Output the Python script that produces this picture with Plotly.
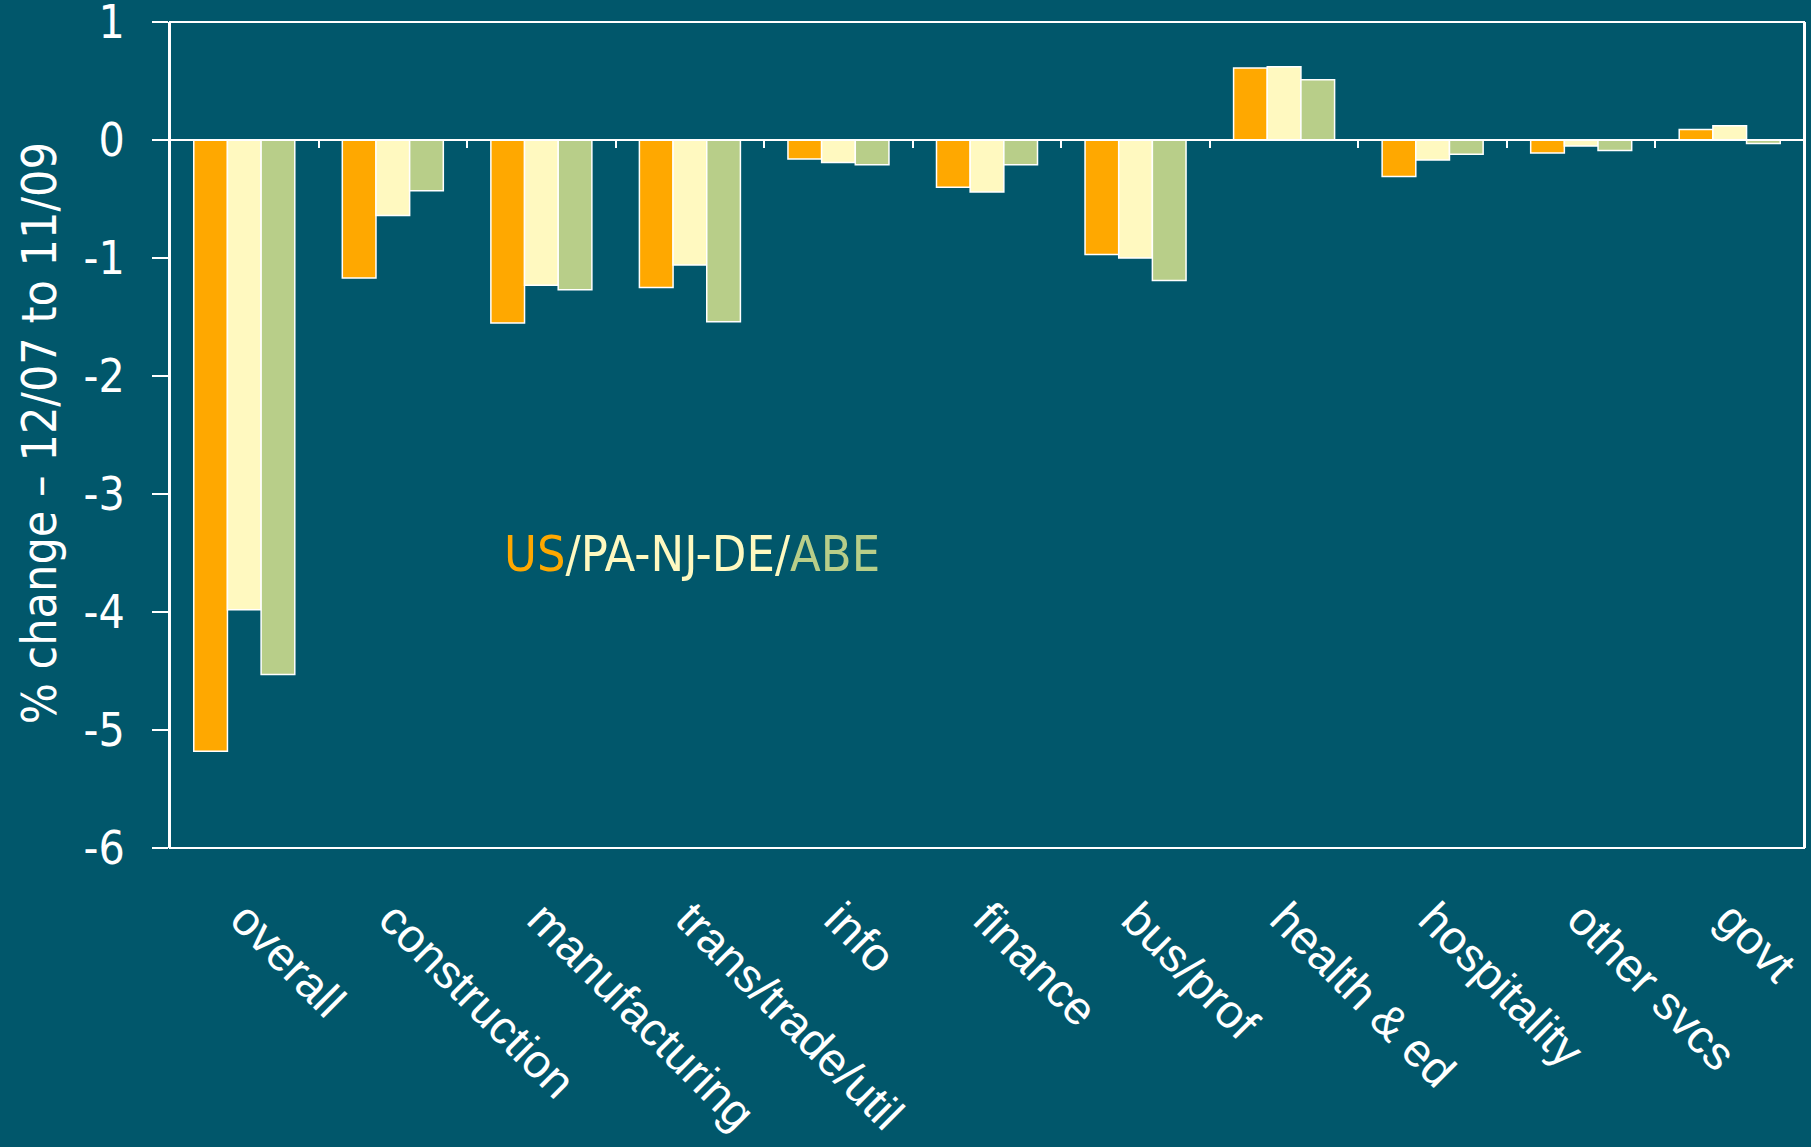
import plotly.graph_objects as go

categories = ["overall", "construction", "manufacturing", "trans/trade/util", "info",
              "finance", "bus/prof", "health & ed", "hospitality", "other svcs", "govt"]
us_values = [-5.18, -1.17, -1.55, -1.25, -0.16, -0.40, -0.97, 0.61, -0.31, -0.11, 0.09]
pa_nj_de_values = [-3.98, -0.64, -1.23, -1.06, -0.19, -0.44, -1.00, 0.62, -0.17, -0.05, 0.12]
abe_values = [-4.53, -0.43, -1.27, -1.54, -0.21, -0.21, -1.19, 0.51, -0.12, -0.09, -0.03]
y_ticks = [1, 0, -1, -2, -3, -4, -5, -6]

BG = "#01576B"
ORANGE = "#FFA800"
CREAM = "#FFF9C0"
GREEN = "#B8CE89"
FONT_T = "DejaVu Sans Condensed, DejaVu Sans, sans-serif"

fig = go.Figure()
for name, vals, col in [("US", us_values, ORANGE),
                        ("PA-NJ-DE", pa_nj_de_values, CREAM),
                        ("ABE", abe_values, GREEN)]:
    fig.add_trace(go.Bar(x=categories, y=vals, name=name,
                         marker=dict(color=col, line=dict(color="white", width=1.5)),
                         showlegend=False))

# invisible trace for the zero-line axis with tick marks at category boundaries
fig.add_trace(go.Scatter(x=categories, y=[None] * len(categories), xaxis="x2",
                         mode="markers", showlegend=False, hoverinfo="skip"))

fig.update_layout(
    width=1811, height=1147,
    paper_bgcolor=BG, plot_bgcolor=BG,
    margin=dict(l=170, r=7, t=22, b=299),
    barmode="group", bargap=0.32, bargroupgap=0,
    xaxis=dict(type="category", categoryarray=categories, range=[-0.5, 10.5],
               showline=False, showgrid=False, zeroline=False, ticks="",
               tickangle=45, ticklabelstandoff=33, automargin=False,
               tickfont=dict(family="Liberation Sans, Arial, sans-serif", size=47, color="white")),
    xaxis2=dict(type="category", categoryarray=categories, range=[-0.5, 10.5],
                overlaying="x", anchor="free", position=6 / 7, side="bottom",
                showline=True, linecolor="white", linewidth=2,
                ticks="outside", tickson="boundaries", ticklen=7, tickwidth=2,
                tickcolor="white", showticklabels=False, showgrid=False, zeroline=False),
    yaxis=dict(range=[-6, 1], tickvals=y_ticks, ticktext=[str(v) for v in y_ticks],
               showgrid=False, zeroline=False, showline=True, linecolor="white",
               linewidth=2, mirror=True, ticks="outside", ticklen=16, tickwidth=2,
               tickcolor="white", ticklabelstandoff=18, ticklabeloverflow="allow",
               automargin=False,
               tickfont=dict(family=FONT_T, size=46, color="white")),
    shapes=[dict(type="rect", xref="paper", yref="paper", x0=0, x1=1, y0=0, y1=1,
                 line=dict(color="white", width=2), layer="above")],
    annotations=[
        dict(xref="paper", yref="paper", x=-0.0802, y=0.502, xanchor="center",
             yanchor="middle", textangle=-90, showarrow=False,
             text="% change \u2013 12/07 to 11/09",
             font=dict(family=FONT_T, size=48, color="white")),
        dict(xref="paper", yref="paper", x=0.3195, y=0.356, xanchor="center",
             yanchor="middle", showarrow=False,
             text=(f"<span style='color:{ORANGE}'>US</span>"
                   f"<span style='color:{CREAM}'>/PA-NJ-DE/</span>"
                   f"<span style='color:{GREEN}'>ABE</span>"),
             font=dict(family=FONT_T, size=50, color=CREAM)),
    ],
)

fig.write_html("out.html", config={"displayModeBar": False},
               post_script="document.body.style.margin='0';"
                           "document.body.style.background='#01576B';")
